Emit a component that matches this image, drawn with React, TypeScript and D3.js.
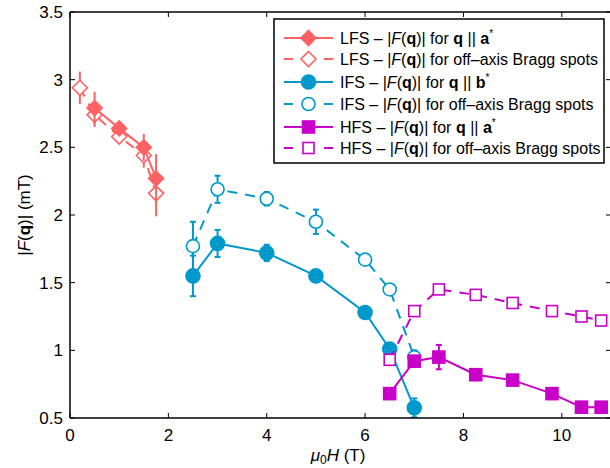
import React from "react";
import * as d3 from "d3";

const lfsAxisX = [0.5, 1.0, 1.5, 1.75];
const lfsAxisY = [2.79, 2.64, 2.5, 2.27];
const lfsAxisErr = [0.12, 0.05, 0.1, 0.18];
const lfsOffX = [0.2, 0.5, 1.0, 1.5, 1.75];
const lfsOffY = [2.94, 2.74, 2.58, 2.44, 2.16];
const lfsOffErr = [0.12, 0.09, 0.05, 0.09, 0.17];

const ifsAxisX = [2.5, 3, 4, 5, 6, 6.5, 7];
const ifsAxisY = [1.55, 1.79, 1.72, 1.55, 1.28, 1.01, 0.575];
const ifsAxisErr = [0.15, 0.1, 0.06, 0.0, 0.0, 0.0, 0.07];
const ifsOffX = [2.5, 3, 4, 5, 6, 6.5, 7];
const ifsOffY = [1.77, 2.19, 2.12, 1.95, 1.67, 1.45, 0.95];
const ifsOffErr = [0.18, 0.1, 0.05, 0.09, 0.03, 0.03, 0.05];

const hfsAxisX = [6.5, 7, 7.5, 8.25, 9, 9.8, 10.4, 10.8];
const hfsAxisY = [0.68, 0.92, 0.95, 0.82, 0.78, 0.68, 0.58, 0.58];
const hfsAxisErr = [0.03, 0.03, 0.09, 0.04, 0.03, 0.02, 0.02, 0.02];
const hfsOffX = [6.5, 7, 7.5, 8.25, 9, 9.8, 10.4, 10.8];
const hfsOffY = [0.93, 1.29, 1.45, 1.41, 1.35, 1.29, 1.25, 1.22];
const hfsOffErr = [0.02, 0.02, 0.02, 0.02, 0.02, 0.02, 0.02, 0.02];

const xTicks = [0, 2, 4, 6, 8, 10];
const yTicks = [0.5, 1, 1.5, 2, 2.5, 3, 3.5];

const LFS = "#FF6262";
const IFS = "#0099CC";
const HFS = "#C800C8";

const FONT = "'Liberation Sans', Arial, Helvetica, sans-serif";

type Marker = "diamond" | "circle" | "square";

function MarkerShape({ type, filled, color, cx, cy }: { type: Marker; filled: boolean; color: string; cx: number; cy: number }) {
  const fill = filled ? color : "#fff";
  const sw = 1.6;
  if (type === "diamond") {
    const r = 7.5;
    const pts = `${cx},${cy - r} ${cx + r},${cy} ${cx},${cy + r} ${cx - r},${cy}`;
    return <polygon points={pts} fill={fill} stroke={color} strokeWidth={sw} />;
  }
  if (type === "circle") {
    return <circle cx={cx} cy={cy} r={filled ? 7 : 6.5} fill={fill} stroke={color} strokeWidth={sw} />;
  }
  const s = filled ? 6 : 5.5;
  return <rect x={cx - s} y={cy - s} width={2 * s} height={2 * s} fill={fill} stroke={color} strokeWidth={sw} />;
}

export default function App() {
  const W = 610, H = 468;
  const left = 70, right = 611, top = 12, bottom = 418;
  const x = d3.scaleLinear().domain([0, 11]).range([left, right]);
  const y = d3.scaleLinear().domain([0.5, 3.5]).range([bottom, top]);
  const line = d3.line<[number, number]>().x(d => x(d[0])).y(d => y(d[1]));

  const series = [
    { xs: lfsOffX, ys: lfsOffY, err: lfsOffErr, color: LFS, marker: "diamond" as Marker, filled: false, dashed: true, cap: 0 },
    { xs: lfsAxisX, ys: lfsAxisY, err: lfsAxisErr, color: LFS, marker: "diamond" as Marker, filled: true, dashed: false, cap: 0 },
    { xs: ifsOffX, ys: ifsOffY, err: ifsOffErr, color: IFS, marker: "circle" as Marker, filled: false, dashed: true, cap: 3 },
    { xs: ifsAxisX, ys: ifsAxisY, err: ifsAxisErr, color: IFS, marker: "circle" as Marker, filled: true, dashed: false, cap: 3 },
    { xs: hfsOffX, ys: hfsOffY, err: hfsOffErr, color: HFS, marker: "square" as Marker, filled: false, dashed: true, cap: 3 },
    { xs: hfsAxisX, ys: hfsAxisY, err: hfsAxisErr, color: HFS, marker: "square" as Marker, filled: true, dashed: false, cap: 3 },
  ];

  const legendItems = [
    { color: LFS, marker: "diamond" as Marker, filled: true, dashed: false, label: "LFS", bold: "a" },
    { color: LFS, marker: "diamond" as Marker, filled: false, dashed: true, label: "LFS", bold: null },
    { color: IFS, marker: "circle" as Marker, filled: true, dashed: false, label: "IFS", bold: "b" },
    { color: IFS, marker: "circle" as Marker, filled: false, dashed: true, label: "IFS", bold: null },
    { color: HFS, marker: "square" as Marker, filled: true, dashed: false, label: "HFS", bold: "a" },
    { color: HFS, marker: "square" as Marker, filled: false, dashed: true, label: "HFS", bold: null },
  ];
  const legendRowY = [38, 59, 82, 104, 127, 148];

  return (
    <svg width={W} height={H} style={{ display: "block", position: "absolute", left: 0, top: 0 }} fontFamily={FONT}>
      <rect x={0} y={0} width={W} height={H} fill="#fff" />
      <defs>
        <clipPath id="plotclip">
          <rect x={left} y={top} width={right - left} height={bottom - top} />
        </clipPath>
      </defs>

      <g clipPath="url(#plotclip)">
        {series.map((s, i) => {
          const pts = s.xs.map((v, j) => [v, s.ys[j]] as [number, number]);
          return (
            <g key={i}>
              <path d={line(pts) || ""} fill="none" stroke={s.color} strokeWidth={2}
                strokeDasharray={s.dashed ? "10,8" : undefined} />
              {pts.map((p, j) => {
                const e = s.err[j];
                if (!e) return null;
                const cx = x(p[0]);
                return (
                  <g key={j} stroke={s.color} strokeWidth={2}>
                    <line x1={cx} x2={cx} y1={y(p[1] - e)} y2={y(p[1] + e)} />
                    {s.cap > 0 && (
                      <>
                        <line x1={cx - s.cap} x2={cx + s.cap} y1={y(p[1] - e)} y2={y(p[1] - e)} />
                        <line x1={cx - s.cap} x2={cx + s.cap} y1={y(p[1] + e)} y2={y(p[1] + e)} />
                      </>
                    )}
                  </g>
                );
              })}
              {pts.map((p, j) => (
                <MarkerShape key={"m" + j} type={s.marker} filled={s.filled} color={s.color} cx={x(p[0])} cy={y(p[1])} />
              ))}
            </g>
          );
        })}
      </g>

      <g stroke="#000" strokeWidth={1.5} fill="none">
        <line x1={left} x2={left} y1={top} y2={bottom} />
        <line x1={left} x2={right} y1={bottom} y2={bottom} />
        <line x1={left} x2={right} y1={top} y2={top} />
        <line x1={right} x2={right} y1={top} y2={bottom} />
      </g>
      <g stroke="#000" strokeWidth={1}>
        {xTicks.map(t => (
          <g key={"xt" + t}>
            <line x1={x(t)} x2={x(t)} y1={bottom} y2={bottom - 5} />
            <line x1={x(t)} x2={x(t)} y1={top} y2={top + 5} />
          </g>
        ))}
        {yTicks.map(t => (
          <g key={"yt" + t}>
            <line x1={left} x2={left + 5} y1={y(t)} y2={y(t)} />
            <line x1={right - 5} x2={right} y1={y(t)} y2={y(t)} />
          </g>
        ))}
      </g>
      <g fontSize={17} fill="#000">
        {xTicks.map(t => (
          <text key={"xl" + t} x={x(t)} y={441} textAnchor="middle">{t}</text>
        ))}
        {yTicks.map(t => (
          <text key={"yl" + t} x={left - 7} y={y(t) + 6} textAnchor="end">{t}</text>
        ))}
      </g>

      <text x={338} y={461} fontSize={17} textAnchor="middle">
        <tspan fontStyle="italic">μ</tspan><tspan fontSize={12} dy={3}>0</tspan><tspan fontStyle="italic" dy={-3}>H</tspan> (T)
      </text>
      <text transform={`translate(30,${(top + bottom) / 2}) rotate(-90)`} fontSize={17} textAnchor="middle">
        |<tspan fontStyle="italic">F</tspan>(<tspan fontWeight="bold">q</tspan>)| (mT)
      </text>

      <rect x={274} y={19} width={330} height={144} fill="#fff" stroke="#000" strokeWidth={1.5} />
      {legendItems.map((it, i) => {
        const ly = legendRowY[i];
        return (
          <g key={"lg" + i}>
            {it.dashed ? (
              <g stroke={it.color} strokeWidth={2}>
                <line x1={284} x2={293} y1={ly} y2={ly} />
                <line x1={324} x2={333} y1={ly} y2={ly} />
              </g>
            ) : (
              <line x1={284} x2={333} y1={ly} y2={ly} stroke={it.color} strokeWidth={2} />
            )}
            <MarkerShape type={it.marker} filled={it.filled} color={it.color} cx={308.5} cy={ly} />
            <text x={340} y={ly + 5.5} fontSize={16} fill="#000">
              {it.label} – |<tspan fontStyle="italic">F</tspan>(<tspan fontWeight="bold">q</tspan>)| for{" "}
              {it.bold ? (
                <>
                  <tspan fontWeight="bold">q</tspan> || <tspan fontWeight="bold">{it.bold}</tspan>
                  <tspan fontSize={10} dy={-7}>*</tspan>
                </>
              ) : (
                "off–axis Bragg spots"
              )}
            </text>
          </g>
        );
      })}
    </svg>
  );
}
